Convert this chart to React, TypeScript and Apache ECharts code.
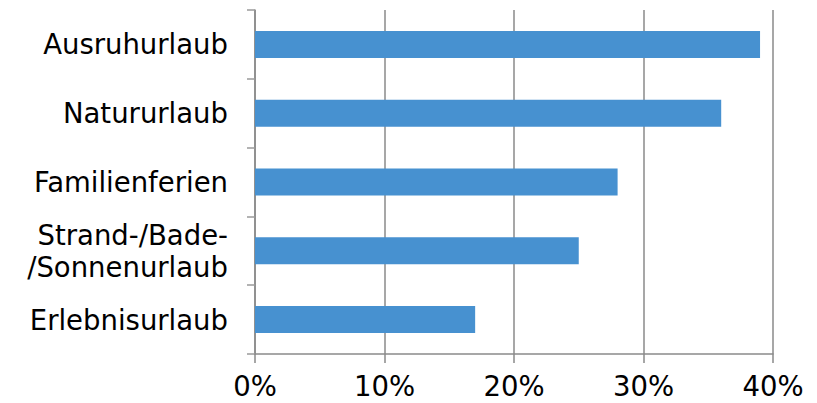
import React, { useEffect, useRef } from "react";
import * as echarts from "echarts";

const categories = [
  "Ausruhurlaub",
  "Natururlaub",
  "Familienferien",
  "Strand-/Bade-\n/Sonnenurlaub",
  "Erlebnisurlaub",
];
const shares = [39, 36, 28, 25, 17];
const tickValues = [0, 10, 20, 30, 40];

export default function App() {
  const ref = useRef<HTMLDivElement>(null);

  useEffect(() => {
    if (!ref.current) return;
    const chart = echarts.init(ref.current, null, { renderer: "svg" });
    chart.setOption({
      animation: false,
      backgroundColor: "#ffffff",
      grid: { left: 255, right: 44, top: 10, bottom: 49, containLabel: false },
      xAxis: {
        type: "value",
        min: tickValues[0],
        max: tickValues[tickValues.length - 1],
        interval: 10,
        axisLine: { show: true, lineStyle: { color: "#8a8a8a", width: 1.5 } },
        axisTick: { show: true, length: 9, lineStyle: { color: "#8a8a8a", width: 1.5 } },
        splitLine: { show: true, lineStyle: { color: "#8a8a8a", width: 1.5 } },
        axisLabel: {
          formatter: (v: number) => `${v}%`,
          fontFamily: "DejaVu Sans",
          fontSize: 27.5,
          color: "#000",
          margin: 18,
        },
      },
      yAxis: {
        type: "category",
        inverse: true,
        data: categories,
        axisLine: { show: true, lineStyle: { color: "#8a8a8a", width: 1.5 } },
        axisTick: { show: true, length: 8, lineStyle: { color: "#9a9a9a", width: 1.5 } },
        splitLine: { show: false },
        axisLabel: {
          fontFamily: "DejaVu Sans",
          fontSize: 27.5,
          lineHeight: 32,
          color: "#000",
          margin: 27,
          align: "right",
        },
      },
      series: [
        {
          type: "bar",
          data: shares,
          barWidth: 27,
          itemStyle: { color: "#4791d0" },
        },
      ],
    });
    return () => chart.dispose();
  }, []);

  return <div ref={ref} style={{ width: 817, height: 403, marginLeft: -8, marginTop: -8 }} />;
}
